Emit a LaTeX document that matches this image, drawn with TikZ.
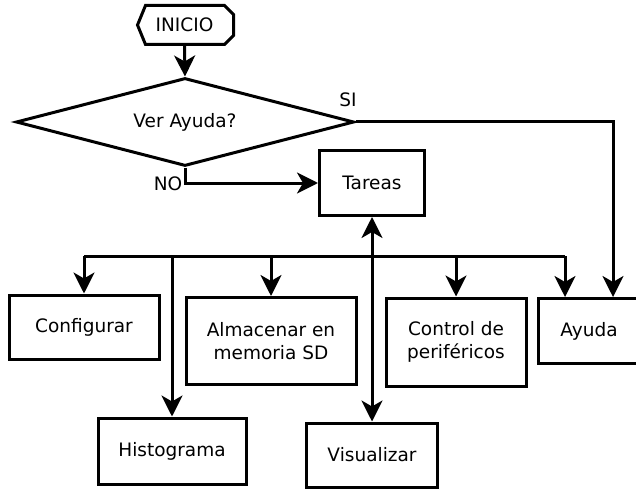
\documentclass[tikz,border=0pt]{standalone}
\usepackage{fontspec}
\setmainfont{DejaVu Sans}
\usepackage{tikz}
\usetikzlibrary{calc,shapes.geometric,arrows.meta}

\begin{document}
\begin{tikzpicture}[x=1pt,y=-1pt,line width=3pt,
  font=\fontsize{18.5}{23}\selectfont,
  box/.style={draw,rectangle,align=center,inner sep=0pt},
  tip/.tip={Stealth[length=21pt,width=21pt,inset=6pt]},
  arr/.style={-tip}]

\useasboundingbox (0,0) rectangle (636,489);

% start and decision
\node[inner sep=0pt,minimum width=95pt,minimum height=36pt] (inicio) at (184.5,25) {INICIO};
\draw ([xshift=2pt]inicio.west) -- ([xshift=10pt]inicio.north west) -- ([xshift=-9pt]inicio.north east)
  -- ([yshift=-9pt]inicio.north east) -- ([yshift=9pt]inicio.south east)
  -- ([xshift=-9pt]inicio.south east) -- ([xshift=10pt]inicio.south west) -- cycle;
\node[draw,diamond,aspect=3.8,inner sep=0pt,minimum width=338pt,minimum height=88pt] (dec) at (185,122) {Ver Ayuda?};
\node (si) at (348,100) {SI};
\node (no) at (168,184) {NO};

% boxes
\node[box,minimum width=105pt,minimum height=65pt] (tareas) at (372,183) {Tareas};
\node[box,minimum width=150pt,minimum height=64pt] (conf) at (84,327) {Configurar};
\node[box,minimum width=170pt,minimum height=87pt] (alm) at (271,341) {Almacenar en\\memoria SD};
\node[box,minimum width=140pt,minimum height=88pt] (ctrl) at (456,342) {Control de\\periféricos};
\node[box,minimum width=102pt,minimum height=65pt] (ayuda) at (589,331) {Ayuda};
\node[box,minimum width=148pt,minimum height=66pt] (hist) at (172,451) {Histograma};
\node[box,minimum width=131pt,minimum height=64pt] (visual) at (372,455) {Visualizar};

\coordinate (bus) at (0,256);
\coordinate (ayIn) at ([xshift=-24pt]ayuda.north);
\coordinate (aySi) at ([xshift=24pt]ayuda.north);

% edges
\draw[arr] (inicio.south) -- (dec.north);
\draw[arr] (dec.east) -| (aySi);
\draw[arr] (dec.south) |- (tareas.west);
\draw[tip-tip] (tareas) -- (visual);
\draw (conf.north |- bus) -- (ayIn |- bus);
\draw[arr] (conf.north |- bus) -- (conf.north);
\draw[arr] (hist.north |- bus) -- (hist.north);
\draw[arr] (alm.north |- bus) -- (alm.north);
\draw[arr] (ctrl.north |- bus) -- (ctrl.north);
\draw[arr] (ayIn |- bus) -- (ayIn);

\end{tikzpicture}
\end{document}
